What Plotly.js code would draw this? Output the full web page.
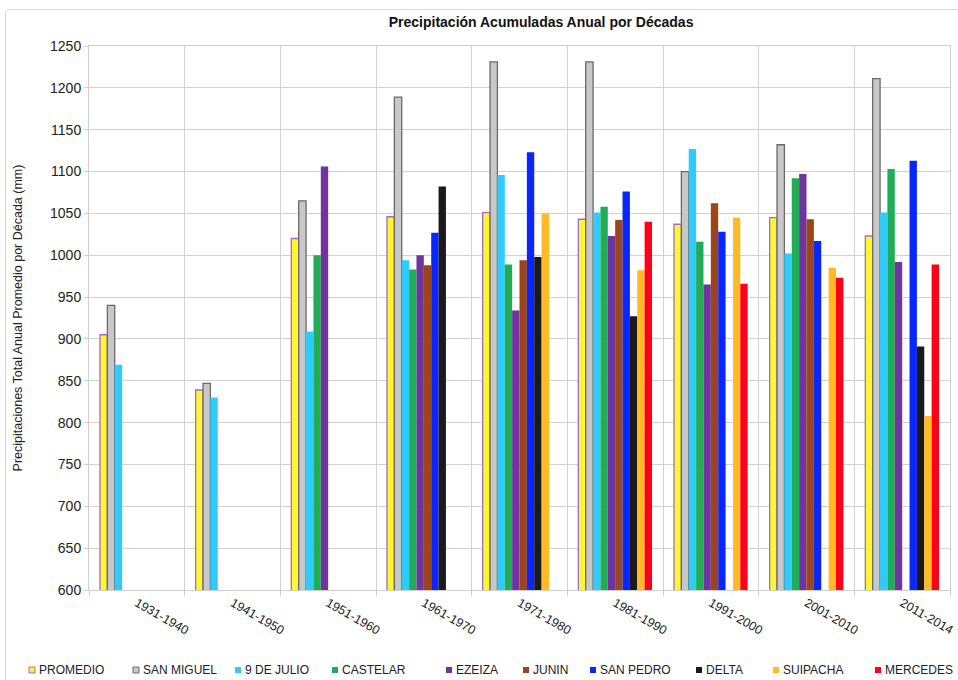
<!DOCTYPE html>
<html>
<head>
<meta charset="utf-8">
<script src="https://cdn.plot.ly/plotly-3.0.1.min.js"></script>
<style>
html,body{margin:0;padding:0;background:#fff;}
#wrap{position:relative;width:958px;height:680px;overflow:hidden;}
#chart{width:958px;height:680px;}
#frame{position:absolute;left:5px;top:9px;width:960px;height:690px;border:1px solid #d8d8d8;border-radius:4px;pointer-events:none;}
</style>
</head>
<body>
<div id="wrap"><div id="chart"></div><div id="frame"></div></div>
<script>
// ---- data ----
const categories = ['1931-1940','1941-1950','1951-1960','1961-1970','1971-1980','1981-1990','1991-2000','2001-2010','2011-2014'];
const seriesNames = ['PROMEDIO','SAN MIGUEL','9 DE JULIO','CASTELAR','EZEIZA','JUNIN','SAN PEDRO','DELTA','SUIPACHA','MERCEDES'];
const promedio     = [905, 839, 1020, 1046, 1051, 1043, 1037, 1045, 1023];
const sanMiguel    = [940, 847, 1065, 1189, 1231, 1231, 1100, 1132, 1211];
const nueveDeJulio = [869, 830, 909, 994, 1096, 1051, 1127, 1002, 1051];
const castelar     = [null, null, 1000, 983, 989, 1058, 1016, 1092, 1103];
const ezeiza       = [null, null, 1106, 1000, 934, 1023, 965, 1097, 992];
const junin        = [null, null, null, 988, 994, 1042, 1062, 1043, null];
const sanPedro     = [null, null, null, 1027, 1123, 1076, 1028, 1017, 1113];
const delta        = [null, null, null, 1082, 998, 927, null, null, 891];
const suipacha     = [null, null, null, null, 1050, 982, 1045, 985, 808];
const mercedes     = [null, null, null, null, null, 1040, 966, 973, 989];
const yTicks = [600,650,700,750,800,850,900,950,1000,1050,1100,1150,1200,1250];

// ---- styles ----
const allSeries = [promedio, sanMiguel, nueveDeJulio, castelar, ezeiza, junin, sanPedro, delta, suipacha, mercedes];
const fills = ['#FFF62E','#C8C8C8','#2ECBFF','#21AD55','#7033A0','#9C4518','#0A26FF','#1A1A1A','#FFBA26','#FF0019'];
const lines = ['#9B6FC9','#6A6A6A',null,null,null,null,null,null,null,null];
const legendPx = [29, 133, 235, 332, 446, 523, 590, 696, 773, 875];

const M = {l:89, r:8, t:46, b:90};
const W = 958, H = 680;
const pw = W - M.l - M.r, ph = H - M.t - M.b;
const px2x = p => (p - M.l) / pw;
const py2y = p => (H - M.b - p) / ph;

const traces = allSeries.map((vals, i) => ({
  type: 'bar',
  name: seriesNames[i],
  x: categories,
  y: vals,
  marker: {
    color: fills[i],
    line: lines[i] ? {color: lines[i], width: 1.3} : {width: 0}
  },
  hoverinfo: 'x+y+name'
}));

const shapes = [];
const annotations = [];
const ly = 670;
seriesNames.forEach((n, i) => {
  const x0 = legendPx[i];
  shapes.push({
    type: 'rect', xref: 'paper', yref: 'paper',
    x0: px2x(x0), x1: px2x(x0 + 6), y0: py2y(ly + 3), y1: py2y(ly - 3),
    fillcolor: fills[i],
    line: {color: lines[i] || fills[i], width: lines[i] ? 1 : 0}
  });
  annotations.push({
    xref: 'paper', yref: 'paper', x: px2x(x0 + 8), y: py2y(ly),
    xanchor: 'left', yanchor: 'middle', showarrow: false,
    text: n, font: {family: 'Arial, Liberation Sans, sans-serif', size: 12, color: '#222'}
  });
});

const layout = {
  width: W, height: H,
  margin: M,
  paper_bgcolor: '#fff', plot_bgcolor: '#fff',
  showlegend: false,
  barmode: 'group', bargap: 0.23, bargroupgap: 0,
  title: {
    text: '<b>Precipitación Acumuladas Anual por Décadas</b>',
    font: {family: 'Liberation Sans Narrow, Arial Narrow, Liberation Sans, Arial, sans-serif', size: 14, color: '#111'},
    x: 0.5648, xanchor: 'center', y: 1 - 22/H, yanchor: 'middle'
  },
  xaxis: {
    type: 'category',
    tickson: 'boundaries',
    showgrid: true, gridcolor: '#d2d2d2', gridwidth: 1,
    ticks: 'outside', ticklen: 5, tickcolor: '#cfcfcf',
    tickangle: 30,
    tickfont: {family: 'Arial, Liberation Sans, sans-serif', size: 12.5, color: '#222'},
    showline: true, linecolor: '#cfcfcf', mirror: true,
    zeroline: false
  },
  yaxis: {
    range: [600, 1250],
    tickvals: yTicks,
    ticktext: yTicks.map(String),
    showgrid: true, gridcolor: '#d2d2d2', gridwidth: 1,
    ticks: 'outside', ticklen: 4, tickcolor: '#cfcfcf',
    tickfont: {family: 'Arial, Liberation Sans, sans-serif', size: 14, color: '#222'},
    showline: true, linecolor: '#cfcfcf', mirror: true,
    zeroline: false,
    title: {
      text: 'Precipitaciones Total Anual Promedio por Década (mm)',
      font: {family: 'Arial, Liberation Sans, sans-serif', size: 12.5, color: '#222'},
      standoff: 24
    }
  },
  shapes: shapes,
  annotations: annotations
};

Plotly.newPlot('chart', traces, layout, {displayModeBar: false, staticPlot: true});
</script>
</body>
</html>
